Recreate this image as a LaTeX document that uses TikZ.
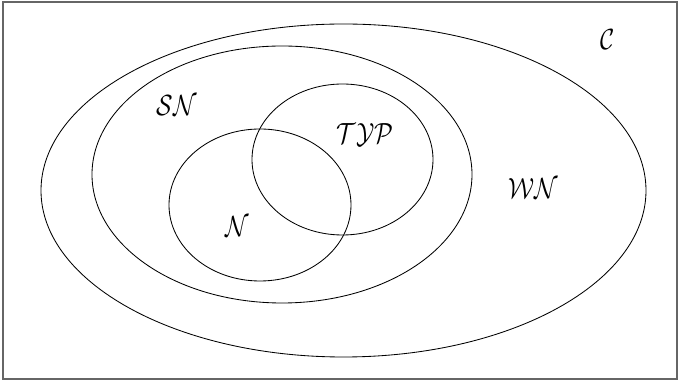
\documentclass[tikz,border=0pt]{standalone}
\usepackage{amsmath,amssymb}
\usepackage{tikz}

\begin{document}
\begin{tikzpicture}[x=0.025cm, y=0.025cm, line width=0.6pt,
    every node/.style={font=\fontsize{16}{18}\selectfont}]
    % Frame
    \useasboundingbox (0,0) rectangle (680,381);
    \draw[black!60, line width=0.8pt] (3,2) rectangle (677,379);
    % Sets
    \draw (343.5,190.5) ellipse [x radius=302.5, y radius=166.5];
    \draw (282,206.5) ellipse [x radius=190, y radius=128.5];
    \draw (260,176) ellipse [x radius=91, y radius=76];
    \draw (342.5,221.5) ellipse [x radius=90.5, y radius=75.5];
    % Labels
    \node[yscale=1.2] (C)   at (608,341.5) {$\mathcal{C}$};
    \node[yscale=1.2] (SN)  at (177,275)   {$\mathcal{SN}$};
    \node[yscale=1.2] (TYP) at (365,246)   {$\mathcal{TYP}$};
    \node[yscale=1.2] (WN)  at (533,192)   {$\mathcal{WN}$};
    \node[yscale=1.2] (N)   at (237,154)   {$\mathcal{N}$};
\end{tikzpicture}
\end{document}
